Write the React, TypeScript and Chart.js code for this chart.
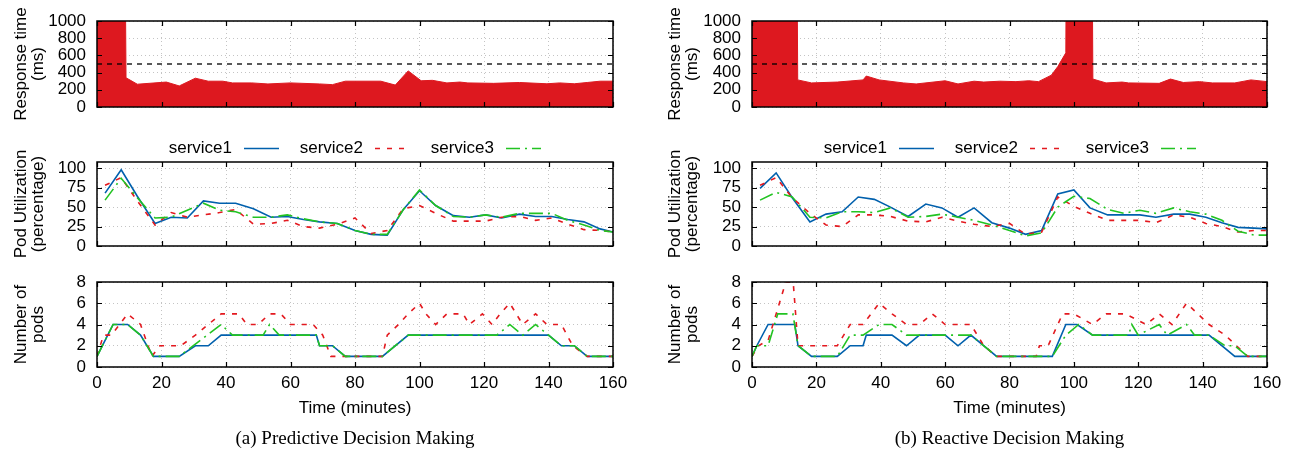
import React, { useEffect, useRef } from 'react';
import { Chart, registerables } from 'chart.js';

Chart.register(...registerables);

const FONT_FAMILY = "'Liberation Sans', Arial, Helvetica, sans-serif";
const SERIF = "'Liberation Serif', 'Times New Roman', serif";
Chart.defaults.font.family = FONT_FAMILY;
Chart.defaults.color = '#000';

const COLOR_BLUE = '#0060ad';
const COLOR_RED = '#e3191f';
const COLOR_FILL = '#dd181f';
const COLOR_GREEN = '#22c322';
const GRID_COLOR = '#c4c4c4';

// ---------- labels & ticks ----------
const seriesNames = ['service1', 'service2', 'service3'];
const xTitle = 'Time (minutes)';
const responseTitle = ['Response time', '(ms)'];
const utilTitle = ['Pod Utilization', '(percentage)'];
const podsTitle = ['Number of', 'pods'];
const captions = ['(a) Predictive Decision Making', '(b) Reactive Decision Making'];
const xTickValues = [0, 20, 40, 60, 80, 100, 120, 140, 160];
const responseTickValues = [0, 200, 400, 600, 800, 1000];
const utilTickValues = [0, 25, 50, 75, 100];
const podTickValues = [0, 2, 4, 6, 8];
const responseThreshold = 500;

// ---------- response time (ms) ----------
const predRespTime = [0, 8.5, 9, 12.5, 21.5, 25.5, 30.5, 34.5, 39, 42, 48, 53, 60, 69, 73, 77, 88, 92.5, 96.5, 100.5, 104, 108.5, 112.5, 115, 123, 131, 139.5, 143.5, 148, 152, 156, 160];
const predResp = [3000, 3000, 340, 265, 290, 245, 335, 300, 300, 280, 280, 268, 280, 268, 260, 300, 300, 255, 420, 305, 310, 280, 290, 280, 275, 285, 270, 280, 270, 285, 300, 300];
const reactRespTime = [0, 13.8, 14.2, 18.5, 26.5, 34.5, 35.5, 39.5, 47, 51, 60, 64, 69, 72, 77, 82, 86, 89, 93, 95, 97.5, 97.8, 105.5, 105.9, 110, 115, 117, 126.5, 130, 134, 139, 143, 150, 155, 160];
const reactResp = [3000, 3000, 315, 280, 290, 315, 360, 315, 280, 268, 305, 268, 300, 290, 300, 295, 305, 295, 370, 470, 630, 3000, 3000, 325, 280, 290, 280, 275, 325, 285, 295, 280, 280, 315, 295];

// ---------- pod utilization (%) ----------
const utilTimes = [2.5, 7.5, 12.5, 18, 23, 28, 33, 38, 43, 48.5, 54, 59, 64, 69, 74.5, 80, 85, 90, 95, 100, 105, 110.5, 115.5, 120.5, 125.5, 131, 136, 141, 146, 151, 156, 160];
const predUtil1 = [68, 98, 64, 29, 37, 36, 58, 55, 55, 48, 37, 38, 34, 31, 29, 20, 15, 14, 47, 71, 52, 39, 37, 40, 36, 41, 38, 38, 34, 31, 22, 18];
const predUtil2 = [78, 88, 58, 27, 43, 37, 40, 43, 47, 28, 29, 33, 25, 23, 28, 36, 16, 20, 48, 52, 42, 32, 32, 32, 37, 38, 33, 36, 28, 21, 20, 18];
const predUtil3 = [59, 87, 62, 36, 37, 46, 55, 46, 44, 37, 37, 40, 35, 31, 29, 20, 15, 15, 47, 72, 52, 38, 37, 40, 37, 42, 42, 42, 33, 27, 20, 18];
const reactUtil1 = [74, 94, 62, 31, 41, 44, 63, 60, 50, 38, 54, 49, 37, 49, 30, 23, 15, 20, 67, 72, 49, 40, 40, 40, 37, 41, 41, 37, 30, 24, 23, 22];
const reactUtil2 = [78, 88, 62, 42, 27, 25, 40, 40, 38, 32, 31, 37, 32, 28, 25, 29, 15, 18, 63, 51, 42, 33, 33, 33, 30, 40, 37, 29, 25, 18, 20, 20];
const reactUtil3 = [59, 69, 63, 37, 36, 44, 44, 43, 49, 37, 38, 41, 37, 33, 27, 20, 13, 17, 50, 64, 61, 47, 42, 46, 42, 49, 44, 41, 33, 19, 14, 14];

// ---------- number of pods ----------
const predPods1Time = [0, 5, 9.5, 13.5, 17.5, 25.5, 30.5, 34.5, 38.5, 68, 69, 73, 77, 88.5, 96.5, 140, 144, 148, 152, 160];
const predPods1 = [1, 4, 4, 3, 1, 1, 2, 2, 3, 3, 2, 2, 1, 1, 3, 3, 2, 2, 1, 1];
const predPods2Time = [0, 2, 4.5, 9.5, 13.5, 17, 19.5, 26, 30.5, 34.5, 38.5, 44, 46.5, 50, 53.5, 57, 60, 67, 70, 72.5, 88.5, 90, 93.5, 96.5, 100, 102, 105, 108.5, 113.5, 115.5, 119.5, 122.5, 125, 128, 130, 132, 136, 139.5, 144, 147.5, 152, 160];
const predPods2 = [1, 3, 3, 5, 4, 1, 2, 2, 3, 4, 5, 5, 4, 4, 5, 5, 4, 4, 3, 1, 1, 3, 4, 5, 6, 5, 4, 5, 5, 4, 5, 4, 5, 6, 5, 4, 5, 4, 4, 2, 1, 1];
const predPods3Time = [0, 5, 9.5, 13.5, 17.5, 25.5, 38.5, 42, 51.5, 53.5, 56.5, 68, 69, 73, 77, 88.5, 96.5, 124, 128, 132, 136, 140, 144, 148, 152, 160];
const predPods3 = [1, 4, 4, 3, 1, 1, 4, 3, 3, 4, 3, 3, 2, 2, 1, 1, 3, 3, 4, 3, 4, 3, 2, 2, 1, 1];
const reactPods1Time = [0, 1.5, 5, 13.3, 14.3, 18.5, 26.5, 30.5, 34.5, 35.5, 43.5, 48, 52, 60, 64, 68, 76, 93.3, 97.5, 101, 105.8, 142, 150, 160];
const reactPods1 = [1, 2, 4, 4, 2, 1, 1, 2, 2, 3, 3, 2, 3, 3, 2, 3, 1, 1, 4, 4, 3, 3, 1, 1];
const reactPods2Time = [0, 2, 5, 10.5, 12.8, 14.3, 26.5, 30.5, 34.5, 39.5, 43.5, 48, 52, 56, 60, 68, 72, 76, 88.3, 89.3, 92, 96.5, 100, 105.8, 110, 116, 122.5, 126.5, 130.5, 135, 138.5, 142, 147, 150.5, 154, 160];
const reactPods2 = [1, 2, 2.5, 8, 8, 2, 2, 4, 4, 6, 5, 4, 4, 5, 4, 4, 2, 1, 1, 2, 2, 5, 5, 4, 5, 5, 4, 5, 4, 6, 5, 4, 3, 2, 1, 1];
const reactPods3Time = [0, 1.5, 5, 8, 12.7, 14.3, 18.5, 26.5, 30.5, 34.5, 39.5, 43.5, 48, 68, 76, 93.3, 97.5, 101.5, 105.8, 117, 118, 120, 126.5, 129, 135, 137.5, 142, 147, 150, 154, 160];
const reactPods3 = [1, 2, 2, 5, 5, 2, 1, 1, 3, 3, 4, 4, 3, 3, 1, 1, 3, 4, 3, 3, 4, 3, 4, 3, 4, 3, 3, 2, 2, 1, 1];

// ---------- helpers ----------
const toPoints = (xs: number[], ys: number[]) => xs.map((x, i) => ({ x, y: ys[i] }));

const seriesStyles = [
  { borderColor: COLOR_BLUE, borderDash: [] as number[], borderWidth: 1.6 },
  { borderColor: COLOR_RED, borderDash: [5, 7], borderWidth: 1.6 },
  { borderColor: COLOR_GREEN, borderDash: [14, 5, 2, 5], borderWidth: 1.6 },
];

function seriesDatasets(times: number[][], values: number[][]) {
  return values.map((v, i) => ({
    label: seriesNames[i],
    data: toPoints(times[i], v),
    ...seriesStyles[i],
    fill: false,
    pointRadius: 0,
    tension: 0,
    order: 3 - i,
  }));
}

const framePlugin = {
  id: 'gnuFrame',
  afterDatasetsDraw(chart: any) {
    const { ctx, chartArea, scales } = chart;
    const { left, right, top, bottom } = chartArea;
    const L = 5;
    ctx.save();
    ctx.strokeStyle = '#000';
    ctx.lineWidth = 1.2;
    ctx.setLineDash([]);
    ctx.beginPath();
    scales.x.ticks.forEach((t: any) => {
      const px = Math.round(scales.x.getPixelForValue(t.value)) + 0.5;
      ctx.moveTo(px, bottom);
      ctx.lineTo(px, bottom - L);
      ctx.moveTo(px, top);
      ctx.lineTo(px, top + L);
    });
    scales.y.ticks.forEach((t: any) => {
      const py = Math.round(scales.y.getPixelForValue(t.value)) + 0.5;
      ctx.moveTo(left, py);
      ctx.lineTo(left + L, py);
      ctx.moveTo(right, py);
      ctx.lineTo(right - L, py);
    });
    ctx.stroke();
    ctx.lineWidth = 1.5;
    ctx.strokeRect(left, top, right - left, bottom - top);
    ctx.restore();
  },
};

const legendPlugin = {
  id: 'svcLegend',
  afterDraw(chart: any) {
    const { ctx, chartArea } = chart;
    const firstTextEnd = 135;
    const spacing = 131;
    const gap = 12;
    const sampleLength = 35;
    const y = chartArea.top - 14;
    ctx.save();
    ctx.font = `17px ${FONT_FAMILY}`;
    ctx.textBaseline = 'middle';
    ctx.textAlign = 'right';
    chart.data.datasets.forEach((ds: any, i: number) => {
      const textEnd = chartArea.left + firstTextEnd + i * spacing;
      ctx.fillStyle = '#000';
      ctx.fillText(ds.label, textEnd, y);
      ctx.strokeStyle = ds.borderColor;
      ctx.lineWidth = ds.borderWidth;
      ctx.setLineDash(ds.borderDash || []);
      ctx.beginPath();
      ctx.moveTo(textEnd + gap, y + 0.5);
      ctx.lineTo(textEnd + gap + sampleLength, y + 0.5);
      ctx.stroke();
    });
    ctx.restore();
  },
};

type Col = { canvasLeft: number; plotLeft: number; plotRight: number; titlePad: number };
type Row = { plotTop: number; plotBottom: number; padTop: number; xHeight: number; padBottom: number };

const PAD_RIGHT = 22;
const columns: Col[] = [
  { canvasLeft: 0, plotLeft: 97, plotRight: 613, titlePad: 12 },
  { canvasLeft: 650, plotLeft: 752, plotRight: 1267, titlePad: 16 },
];
// y-axis needs >= ~22px above and below the plot area for its end labels
const rows: Row[] = [
  { plotTop: 21, plotBottom: 107, padTop: 23, xHeight: 2, padBottom: 22 },
  { plotTop: 162, plotBottom: 246, padTop: 34, xHeight: 2, padBottom: 22 },
  { plotTop: 282, plotBottom: 367, padTop: 23, xHeight: 52, padBottom: 2 },
];

const plainLabel = (v: any) => String(v);

function makeConfig(col: Col, row: Row, opts: {
  datasets: any[];
  yMax: number;
  yTicks: number[];
  yTitle: string[];
  showX: boolean;
  legend: boolean;
}) {
  const font = { size: 17, family: FONT_FAMILY };
  return {
    type: 'line',
    data: { datasets: opts.datasets },
    plugins: opts.legend ? [framePlugin, legendPlugin] : [framePlugin],
    options: {
      responsive: false,
      animation: false,
      events: [],
      layout: { padding: { top: row.padTop, right: PAD_RIGHT, bottom: row.padBottom, left: 0 } },
      plugins: { legend: { display: false }, tooltip: { enabled: false } },
      scales: {
        x: {
          type: 'linear',
          min: 0,
          max: 160,
          afterBuildTicks: (s: any) => {
            s.ticks = xTickValues.map((v) => ({ value: v }));
          },
          afterFit: (s: any) => {
            s.height = row.xHeight;
          },
          grid: { color: GRID_COLOR, lineWidth: 1, drawTicks: false },
          border: { display: false, dash: [1, 3] },
          ticks: { display: opts.showX, padding: 6, font, color: '#000', maxRotation: 0, autoSkip: false, callback: plainLabel },
          title: {
            display: opts.showX,
            text: xTitle,
            font,
            color: '#000',
            padding: { top: 0, bottom: 0 },
          },
        },
        y: {
          type: 'linear',
          min: 0,
          max: opts.yMax,
          afterBuildTicks: (s: any) => {
            s.ticks = opts.yTicks.map((v) => ({ value: v }));
          },
          afterFit: (s: any) => {
            s.width = col.plotLeft - col.canvasLeft;
          },
          grid: { color: GRID_COLOR, lineWidth: 1, drawTicks: false },
          border: { display: false, dash: [1, 3] },
          ticks: { padding: 11, font, color: '#000', autoSkip: false, callback: plainLabel },
          title: {
            display: true,
            text: opts.yTitle,
            font: { size: 17, family: FONT_FAMILY, lineHeight: 1.05 },
            color: '#000',
            padding: { top: col.titlePad, bottom: 0 },
          },
        },
      },
    },
  };
}

function responseDatasets(times: number[], values: number[]) {
  return [
    {
      label: 'threshold',
      data: [
        { x: 0, y: responseThreshold },
        { x: 160, y: responseThreshold },
      ],
      borderColor: '#000',
      borderWidth: 1.3,
      borderDash: [5, 5],
      fill: false,
      pointRadius: 0,
      order: 0,
    },
    {
      label: 'response',
      data: toPoints(times, values),
      borderColor: COLOR_FILL,
      backgroundColor: COLOR_FILL,
      borderWidth: 1,
      fill: 'origin',
      pointRadius: 0,
      tension: 0,
      order: 1,
    },
  ];
}

type PanelSpec = { key: string; col: Col; row: Row; config: any };

function ChartPanel({ spec }: { spec: PanelSpec }) {
  const ref = useRef<HTMLCanvasElement | null>(null);
  const { col, row } = spec;
  const width = col.plotRight - col.canvasLeft + PAD_RIGHT;
  const height = row.padTop + (row.plotBottom - row.plotTop) + row.xHeight + row.padBottom;
  useEffect(() => {
    if (!ref.current) return;
    const chart = new Chart(ref.current, spec.config);
    return () => chart.destroy();
  }, [spec]);
  return (
    <canvas
      ref={ref}
      width={width}
      height={height}
      style={{
        position: 'absolute',
        left: col.canvasLeft,
        top: row.plotTop - row.padTop,
        width,
        height,
      }}
    />
  );
}

const sides = [
  {
    resp: [predRespTime, predResp],
    util: [predUtil1, predUtil2, predUtil3],
    podsT: [predPods1Time, predPods2Time, predPods3Time],
    pods: [predPods1, predPods2, predPods3],
  },
  {
    resp: [reactRespTime, reactResp],
    util: [reactUtil1, reactUtil2, reactUtil3],
    podsT: [reactPods1Time, reactPods2Time, reactPods3Time],
    pods: [reactPods1, reactPods2, reactPods3],
  },
];

const panels: PanelSpec[] = [];
sides.forEach((side, c) => {
  const col = columns[c];
  panels.push({
    key: `resp${c}`,
    col,
    row: rows[0],
    config: makeConfig(col, rows[0], {
      datasets: responseDatasets(side.resp[0], side.resp[1]),
      yMax: 1000,
      yTicks: responseTickValues,
      yTitle: responseTitle,
      showX: false,
      legend: false,
    }),
  });
  panels.push({
    key: `util${c}`,
    col,
    row: rows[1],
    config: makeConfig(col, rows[1], {
      datasets: seriesDatasets([utilTimes, utilTimes, utilTimes], side.util),
      yMax: 108,
      yTicks: utilTickValues,
      yTitle: utilTitle,
      showX: false,
      legend: true,
    }),
  });
  panels.push({
    key: `pods${c}`,
    col,
    row: rows[2],
    config: makeConfig(col, rows[2], {
      datasets: seriesDatasets(side.podsT, side.pods),
      yMax: 8,
      yTicks: podTickValues,
      yTitle: podsTitle,
      showX: true,
      legend: false,
    }),
  });
});

export default function App() {
  return (
    <div style={{ position: 'absolute', left: 0, top: 0, width: 1296, height: 457, background: '#fff', overflow: 'hidden' }}>
      {panels.map((p) => (
        <ChartPanel key={p.key} spec={p} />
      ))}
      {columns.map((col, i) => (
        <div
          key={`cap${i}`}
          style={{
            position: 'absolute',
            left: col.plotLeft,
            width: col.plotRight - col.plotLeft,
            top: 427,
            lineHeight: '22px',
            textAlign: 'center',
            fontFamily: SERIF,
            fontSize: 19,
            color: '#000',
            whiteSpace: 'nowrap',
          }}
        >
          {captions[i]}
        </div>
      ))}
    </div>
  );
}
